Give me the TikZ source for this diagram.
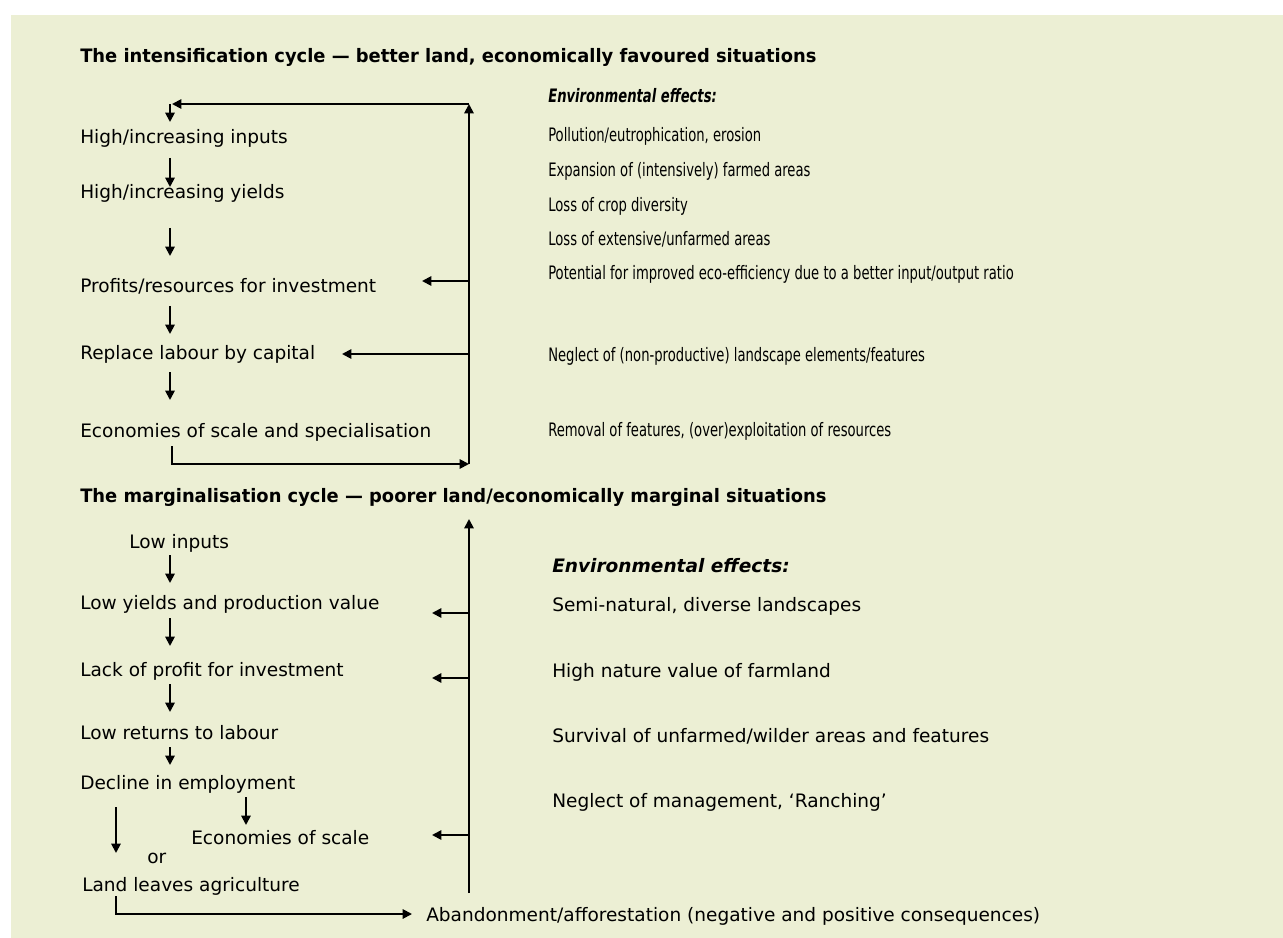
\documentclass[tikz,border=0pt]{standalone}
\usepackage{fontspec}
\setmainfont{DejaVu Sans}
\newfontfamily\condfont[FakeStretch=0.71]{DejaVu Sans}
\newfontfamily\titlefont[FakeStretch=0.965]{DejaVu Sans}
\usetikzlibrary{arrows.meta}
\definecolor{panel}{RGB}{236,239,212}
\begin{document}
\begin{tikzpicture}[x=0.75pt,y=-0.75pt,
  txt/.style={anchor=base west, inner sep=0pt, font=\fontsize{13.9}{16}\selectfont},
  head/.style={txt, font=\fontsize{13.9}{16}\selectfont\titlefont\bfseries},
  cond/.style={txt, font=\fontsize{13.9}{16}\selectfont\condfont},
  condhead/.style={txt, font=\fontsize{13.9}{16}\selectfont\condfont\bfseries\itshape},
  effhead/.style={txt, font=\fontsize{13.9}{16}\selectfont\bfseries\itshape},
  link/.style={line width=1.4pt},
  flow/.style={link, -{Triangle[length=7pt,width=7pt]}}]
\path[use as bounding box] (0,0) rectangle (1283,938);
\fill[white] (0,0) rectangle (1283,938);
\fill[panel] (11,15) rectangle (1283,938);

% ---------- intensification cycle ----------
\node[head] (t1) at (80,63) {The intensification cycle — better land, economically favoured situations};
\node[txt] (i1) at (80,144) {High/increasing inputs};
\node[txt] (i2) at (80,199) {High/increasing yields};
\node[txt] (i3) at (80,292) {Profits/resources for investment};
\node[txt] (i4) at (80,359) {Replace labour by capital};
\node[txt] (i5) at (80,437) {Economies of scale and specialisation};

\node[condhead] (e0) at (548,103) {Environmental effects:};
\node[cond] (e1) at (548,142) {Pollution/eutrophication, erosion};
\node[cond] (e2) at (548,177) {Expansion of (intensively) farmed areas};
\node[cond] (e3) at (548,212) {Loss of crop diversity};
\node[cond] (e4) at (548,246) {Loss of extensive/unfarmed areas};
\node[cond] (e5) at (548,280) {Potential for improved eco-efficiency due to a better input/output ratio};
\node[cond] (e6) at (548,362) {Neglect of (non-productive) landscape elements/features};
\node[cond] (e7) at (548,436) {Removal of features, (over)exploitation of resources};

\coordinate (itop)  at (469,104);
\coordinate (ibot)  at (469,464);
\coordinate (iret)  at (172,104);
\coordinate (iin)   at (170,104);
\coordinate (iinE)  at (170,122);
\coordinate (iout)  at (172,446);
\coordinate (ib3)   at (469,281);
\coordinate (ib3E)  at (422,281);
\coordinate (ib4)   at (469,354);
\coordinate (ib4E)  at (342,354);

\draw[flow] (iout) |- (ibot);
\draw[flow] (ibot) -- (itop);
\draw[flow] (itop) -- (iret);
\draw[flow] (iin) -- (iinE);
\draw[flow] (ib3) -- (ib3E);
\draw[flow] (ib4) -- (ib4E);

\draw[flow] (170,158) coordinate (d1s) -- (170,187) coordinate (d1e);
\draw[flow] (170,228) coordinate (d2s) -- (170,256) coordinate (d2e);
\draw[flow] (170,306) coordinate (d3s) -- (170,334) coordinate (d3e);
\draw[flow] (170,372) coordinate (d4s) -- (170,400) coordinate (d4e);

% ---------- marginalisation cycle ----------
\node[head] (t2) at (80,502) {The marginalisation cycle — poorer land/economically marginal situations};
\node[txt] (m1) at (129,548) {Low inputs};
\node[txt] (m2) at (80,609) {Low yields and production value};
\node[txt] (m3) at (80,676) {Lack of profit for investment};
\node[txt] (m4) at (80,739) {Low returns to labour};
\node[txt] (m5) at (80,789) {Decline in employment};
\node[txt] (m6) at (191,844) {Economies of scale};
\node[txt] (mor) at (147,863) {or};
\node[txt] (m7) at (82,891) {Land leaves agriculture};
\node[txt] (m8) at (426,921) {Abandonment/afforestation (negative and positive consequences)};

\node[effhead] (f0) at (552,572) {Environmental effects:};
\node[txt] (f1) at (552,611) {Semi-natural, diverse landscapes};
\node[txt] (f2) at (552,677) {High nature value of farmland};
\node[txt] (f3) at (552,742) {Survival of unfarmed/wilder areas and features};
\node[txt] (f4) at (552,807) {Neglect of management, ‘Ranching’};

\coordinate (mtop) at (469,519);
\coordinate (mbot) at (469,893);
\coordinate (mb2)  at (469,613);
\coordinate (mb2E) at (432,613);
\coordinate (mb3)  at (469,678);
\coordinate (mb3E) at (432,678);
\coordinate (mb6)  at (469,835);
\coordinate (mb6E) at (432,835);
\coordinate (mout) at (116,896);
\coordinate (mend) at (412,914);

\draw[flow] (mbot) -- (mtop);
\draw[flow] (mb2) -- (mb2E);
\draw[flow] (mb3) -- (mb3E);
\draw[flow] (mb6) -- (mb6E);
\draw[flow] (mout) |- (mend);

\draw[flow] (170,555) coordinate (n1s) -- (170,583) coordinate (n1e);
\draw[flow] (170,618) coordinate (n2s) -- (170,646) coordinate (n2e);
\draw[flow] (170,684) coordinate (n3s) -- (170,712) coordinate (n3e);
\draw[flow] (170,747) coordinate (n4s) -- (170,765) coordinate (n4e);
\draw[flow] (246,797) coordinate (n5s) -- (246,825) coordinate (n5e);
\draw[flow] (116,807) coordinate (n6s) -- (116,853) coordinate (n6e);
\end{tikzpicture}
\end{document}
